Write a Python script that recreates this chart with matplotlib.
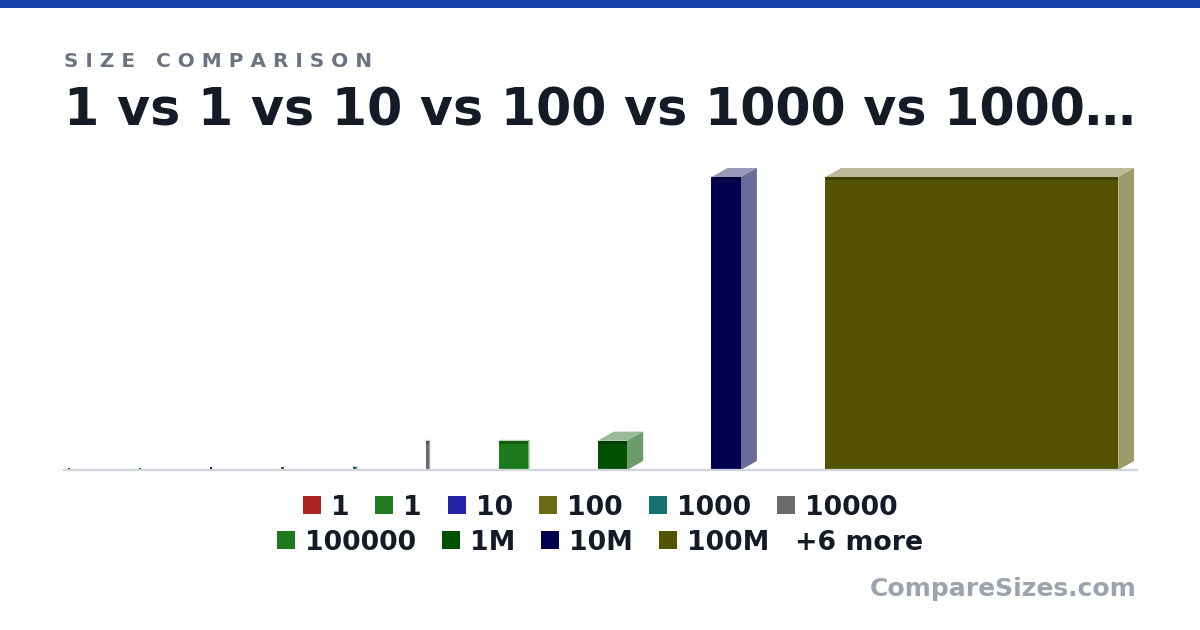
import matplotlib
matplotlib.use("Agg")
import matplotlib.pyplot as plt
from matplotlib.patches import Rectangle, Polygon
from matplotlib.lines import Line2D
import numpy as np

plt.rcParams["font.family"] = ["DejaVu Sans"]

# data
labels = ["1", "1", "10", "100", "1000", "10000", "100000", "1M", "10M", "100M"]
values = [1, 1, 10, 100, 1e3, 1e4, 1e5, 1e6, 1e7, 1e8]
colors = ["#aa2222", "#1e7b1e", "#2323a8", "#6b6b17", "#167272", "#6b6b6b",
          "#1b7a1b", "#005000", "#00004f", "#545400"]
extra_count = 6
title = "1 vs 1 vs 10 vs 100 vs 1000 vs 1000\u2026"
subtitle = "SIZE COMPARISON"
watermark = "CompareSizes.com"

W, H = 1200, 630
fig = plt.figure(figsize=(W / 100, H / 100), dpi=100)
fig.patch.set_facecolor("white")

def fx(px):
    return px / W

def fy(py):
    return 1 - py / H

def blend(c, t):
    rgb = np.array(matplotlib.colors.to_rgb(c))
    return tuple(rgb + (1 - rgb) * t)

def darker(c, f):
    return tuple(np.array(matplotlib.colors.to_rgb(c)) * f)

# box dimensions: powers of ten split over height, width, depth
def dims(v):
    n = int(round(np.log10(v)))
    return 10 ** ((n + 1) // 3), 10 ** ((n + 2) // 3), 10 ** (n // 3)

scale = 293 / 1000      # px per unit
ox, oy = 0.55, 0.31     # oblique depth factors
gap = 68.3 / scale
slot_min = 2.7 / scale  # layout width of tiny boxes
min_sz = 2.0 / scale    # keep tiny boxes visible

boxes = [dims(v) for v in values]
xs = []
cur = 0
for w, h, d in boxes:
    xs.append(cur)
    cur += max(w, slot_min) + ox * d + gap
total_w = cur - gap
total_h = max(h + oy * d for w, h, d in boxes)

left_px, base_px = 68, 470
ax = fig.add_axes([fx(left_px), fy(base_px), total_w * scale / W, total_h * scale / H])
ax.set_xlim(0, total_w)
ax.set_ylim(0, total_h)
ax.axis("off")

strip = 3 / scale
for x, (w, h, d), c in zip(xs, boxes, colors):
    dx, dy = ox * d, oy * d
    w = max(w, min_sz)
    h = max(h, min_sz)
    ax.add_patch(Polygon([(x, h), (x + dx, h + dy), (x + w + dx, h + dy), (x + w, h)],
                         closed=True, facecolor=blend(c, 0.6), edgecolor="none"))
    ax.add_patch(Polygon([(x + w, 0), (x + w + dx, dy), (x + w + dx, h + dy), (x + w, h)],
                         closed=True, facecolor=blend(c, 0.42), edgecolor="none"))
    ax.add_patch(Rectangle((x, 0), w, h, facecolor=c, edgecolor="none"))
    s = min(strip, h)
    ax.add_patch(Rectangle((x, h - s), w, s, facecolor=darker(c, 0.75), edgecolor="none"))

# baseline
fig.add_artist(Line2D([fx(64), fx(1137)], [fy(470), fy(470)], color="#d1d5db", linewidth=1.6))

# top band
fig.add_artist(Rectangle((0, fy(8)), 1, 8 / H, facecolor="#1640aa", edgecolor="none",
                         transform=fig.transFigure))

fig.text(fx(64), fy(67), " ".join(subtitle), fontsize=14.4,
         fontweight="bold", color="#6b7280", va="baseline", ha="left")
fig.text(fx(64), fy(126), title, fontsize=36.5, fontweight="bold", color="#151b26",
         va="baseline", ha="left")
fig.text(fx(1137), fy(596), watermark, fontsize=18, fontweight="bold", color="#9ca3af",
         va="baseline", ha="right")

# legend, two centered rows
renderer = fig.canvas.get_renderer()
leg_fs = 19.3
sq, sq_gap, item_gap = 18, 10, 26
rows = [list(range(0, 6)), list(range(6, 10))]
row_y = [505, 540]

def text_w(s):
    t = fig.text(0, 0, s, fontsize=leg_fs, fontweight="bold")
    wpx = t.get_window_extent(renderer=renderer).width
    t.remove()
    return wpx

for r, (idx, yc) in enumerate(zip(rows, row_y)):
    items = [(labels[i], colors[i]) for i in idx]
    if r == 1:
        items.append(("+%d more" % extra_count, None))
    widths = []
    for lab, c in items:
        tw = text_w(lab)
        widths.append(tw + (sq + sq_gap if c else 0))
    row_w = sum(widths) + item_gap * (len(items) - 1)
    x = 600 - row_w / 2
    for (lab, c), wi in zip(items, widths):
        tx = x
        if c:
            fig.add_artist(Rectangle((fx(x), fy(yc + sq / 2)), sq / W, sq / H, facecolor=c,
                                     edgecolor="none", transform=fig.transFigure))
            tx = x + sq + sq_gap
        fig.text(fx(tx), fy(yc), lab, fontsize=leg_fs, fontweight="bold", color="#151b26",
                 va="center_baseline", ha="left")
        x += wi + item_gap

fig.savefig("out.png", dpi=100, facecolor="white")
